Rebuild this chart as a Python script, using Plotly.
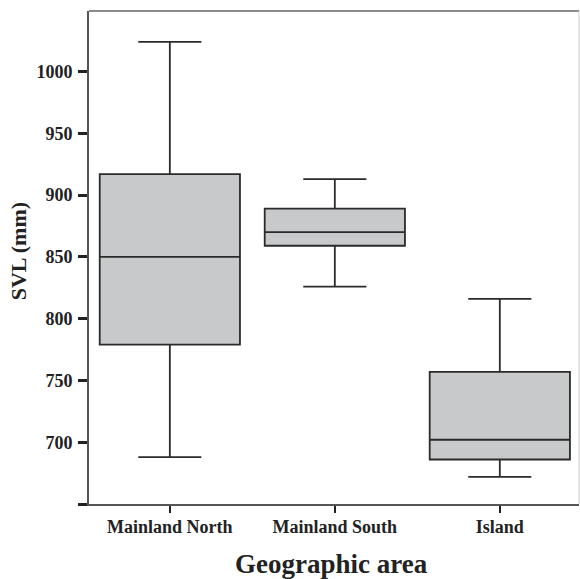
import plotly.graph_objects as go

areas = ["Mainland North", "Mainland South", "Island"]
lower_whisker = [688, 826, 672]
q1 = [779, 859, 686]
median = [850, 870, 702]
q3 = [917, 889, 757]
upper_whisker = [1024, 913, 816]

ytick_vals = [650, 700, 750, 800, 850, 900, 950, 1000]
ytick_text = ["", "700", "750", "800", "850", "900", "950", "1000"]

font_family = "Liberation Serif"

fig = go.Figure()
fig.add_trace(go.Box(
    x=areas,
    q1=q1,
    median=median,
    q3=q3,
    lowerfence=lower_whisker,
    upperfence=upper_whisker,
    width=0.85,
    whiskerwidth=0.45,
    fillcolor="#c7c9cb",
    line=dict(color="#2b2b2b", width=1.8),
    boxpoints=False,
    hoverinfo="skip",
    showlegend=False,
))

fig.update_layout(
    width=580,
    height=579,
    margin=dict(l=89, r=1, t=11, b=75),
    plot_bgcolor="white",
    paper_bgcolor="white",
    font=dict(family=font_family, color="#222222"),
    showlegend=False,
)

fig.update_xaxes(
    type="category",
    range=[-0.49, 2.48],
    showline=True,
    linecolor="#555555",
    linewidth=2,
    mirror=False,
    ticks="outside",
    ticklen=7,
    tickwidth=2,
    tickcolor="#222222",
    tickfont=dict(family=font_family, size=18, weight="bold", color="#222222"),
    ticklabelstandoff=-2,
    showgrid=False,
    zeroline=False,
)

fig.update_yaxes(
    range=[650, 1049],
    tickvals=ytick_vals,
    ticktext=ytick_text,
    showline=True,
    linecolor="#555555",
    linewidth=2,
    ticks="outside",
    ticklen=9,
    tickwidth=2.5,
    tickcolor="#222222",
    tickfont=dict(family=font_family, size=18, weight="bold", color="#222222"),
    ticklabelstandoff=2,
    showgrid=False,
    zeroline=False,
)

# top and right frame lines
fig.add_shape(type="line", xref="paper", yref="paper", x0=0, x1=1, y0=1, y1=1,
              line=dict(color="#8a8a8a", width=2))
fig.add_shape(type="line", xref="paper", yref="paper", x0=1, x1=1, y0=0, y1=1,
              line=dict(color="#cccccc", width=1))

fig.add_annotation(
    text="<b>SVL (mm)</b>", xref="paper", yref="paper",
    x=-0.145, y=0.5125, xanchor="center", yanchor="middle",
    textangle=-90, showarrow=False,
    font=dict(family=font_family, size=22, color="#222222"),
)
fig.add_annotation(
    text="<b>Geographic area</b>", xref="paper", yref="paper",
    x=0.495, y=-0.122, xanchor="center", yanchor="middle",
    showarrow=False,
    font=dict(family=font_family, size=27, color="#222222"),
)

fig.write_html("out.html")
